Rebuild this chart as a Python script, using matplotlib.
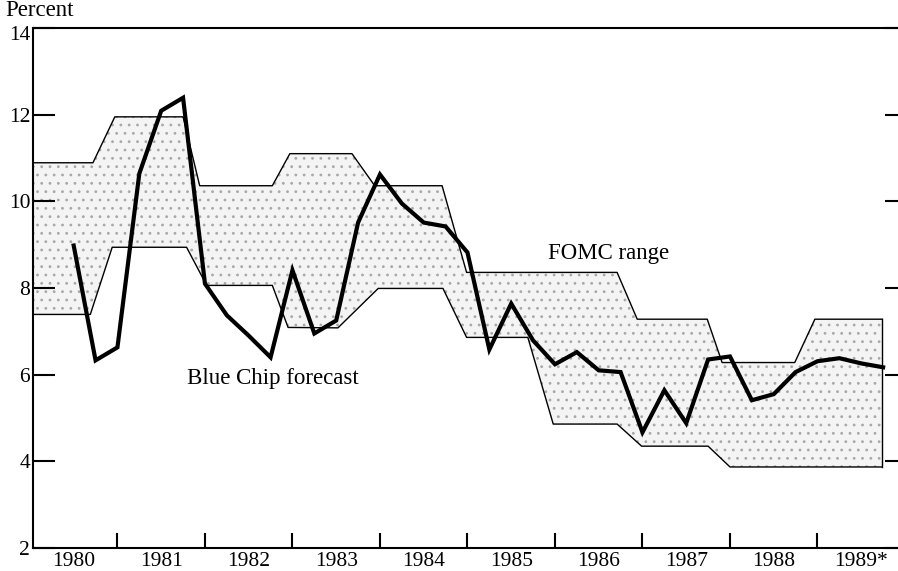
import numpy as np
import matplotlib
matplotlib.use("Agg")
import matplotlib.pyplot as plt
import matplotlib.transforms as mtransforms

plt.rcParams['font.family'] = ['Liberation Serif', 'DejaVu Serif']
plt.rcParams['hatch.linewidth'] = 0.8

# Blue Chip forecast (quarterly)
bc_t = [1980.50, 1980.75, 1981.00, 1981.25, 1981.50, 1981.75, 1982.00, 1982.25,
        1982.50, 1982.75, 1983.00, 1983.25, 1983.50, 1983.75, 1984.00, 1984.25,
        1984.50, 1984.75, 1985.00, 1985.25, 1985.50, 1985.75, 1986.00, 1986.25,
        1986.50, 1986.75, 1987.00, 1987.25, 1987.50, 1987.75, 1988.00, 1988.25,
        1988.50, 1988.75, 1989.00, 1989.25, 1989.50, 1989.75]
bc_v = [8.98, 6.33, 6.63, 10.64, 12.09, 12.39, 8.10, 7.37,
        6.90, 6.40, 8.41, 6.95, 7.25, 9.51, 10.62, 9.95,
        9.51, 9.42, 8.82, 6.58, 7.64, 6.79, 6.24, 6.52,
        6.10, 6.06, 4.67, 5.64, 4.88, 6.35, 6.42, 5.41,
        5.55, 6.06, 6.31, 6.38, 6.26, 6.17]

# FOMC range upper and lower bounds
up_t = [1980.03, 1980.72, 1980.97, 1981.75, 1981.94, 1982.77, 1982.97, 1983.68,
        1983.94, 1984.71, 1984.99, 1986.71, 1986.94, 1987.74, 1987.91, 1988.74,
        1988.97, 1989.74]
up_v = [10.89, 10.89, 11.95, 11.95, 10.36, 10.36, 11.10, 11.10,
        10.36, 10.36, 8.36, 8.36, 7.28, 7.28, 6.28, 6.28,
        7.28, 7.28]
lo_t = [1980.03, 1980.69, 1980.94, 1981.79, 1982.02, 1982.77, 1982.95, 1983.52,
        1983.98, 1984.72, 1984.99, 1985.69, 1985.98, 1986.71, 1986.99, 1987.75,
        1988.00, 1989.74]
lo_v = [7.39, 7.39, 8.94, 8.94, 8.06, 8.06, 7.09, 7.08,
        7.99, 7.99, 6.86, 6.86, 4.86, 4.86, 4.35, 4.35,
        3.87, 3.87]

years = list(range(1980, 1990))
year_labels = [str(y) for y in years[:-1]] + ['1989*']
y_ticks = [2, 4, 6, 8, 10, 12, 14]

fig = plt.figure(figsize=(8.98, 5.71), dpi=100)
ax = fig.add_axes([33/898, 23/571, 1 - 33/898, (548-28)/571])
ax.set_xlim(1980.035, 1989.92)
ax.set_ylim(2, 14)

# band
poly_x = np.concatenate([up_t, lo_t[::-1]])
poly_y = np.concatenate([up_v, lo_v[::-1]])
ax.fill(poly_x, poly_y, facecolor='#f4f4f4', edgecolor='#a8a8a8', hatch='..', linewidth=0, zorder=1)
ax.plot(up_t, up_v, color='black', lw=1.0, zorder=2)
ax.plot(lo_t, lo_v, color='black', lw=1.0, zorder=2)
ax.plot([up_t[-1], lo_t[-1]], [up_v[-1], lo_v[-1]], color='black', lw=1.0, zorder=2)

# Blue chip line
ax.plot(bc_t, bc_v, color='black', lw=3.0, solid_joinstyle='miter', zorder=3)

# spines
ax.spines['right'].set_visible(False)
for s in ['left', 'bottom', 'top']:
    ax.spines[s].set_linewidth(1.5)

# x ticks: boundaries as major (no labels), midpoints as minor (labels)
ax.set_xticks([y + 1 for y in years[:-1]])
ax.set_xticklabels([])
ax.set_xticks([y + 0.5 for y in years], minor=True)
ax.set_xticklabels(year_labels, minor=True, fontsize=15.5)
ax.tick_params(axis='x', which='major', direction='in', length=11, width=1.5)
ax.tick_params(axis='x', which='minor', length=0, pad=3)

ax.set_yticks(y_ticks)
ax.set_yticklabels([str(v) for v in y_ticks], fontsize=15.5)
ax.tick_params(axis='y', which='major', direction='in', length=16, width=1.5, pad=2,
               right=True)
for t in ax.yaxis.get_major_ticks():
    t.tick2line.set_markersize(9.5)

# shift top label ("14") slightly down, as in the reference
lab14 = ax.get_yticklabels()[-1]
lab14.set_transform(lab14.get_transform() +
                    mtransforms.ScaledTranslation(0, -5/100, fig.dpi_scale_trans))

ax.text(1985.92, 8.8, 'FOMC range', fontsize=16.5, va='center', ha='left')
ax.text(1981.79, 5.92, 'Blue Chip forecast', fontsize=16.5, va='center', ha='left')
fig.text(5/898, 1 - 11/571, 'Percent', fontsize=16.5, va='center', ha='left')

fig.savefig('out.png', dpi=100)
